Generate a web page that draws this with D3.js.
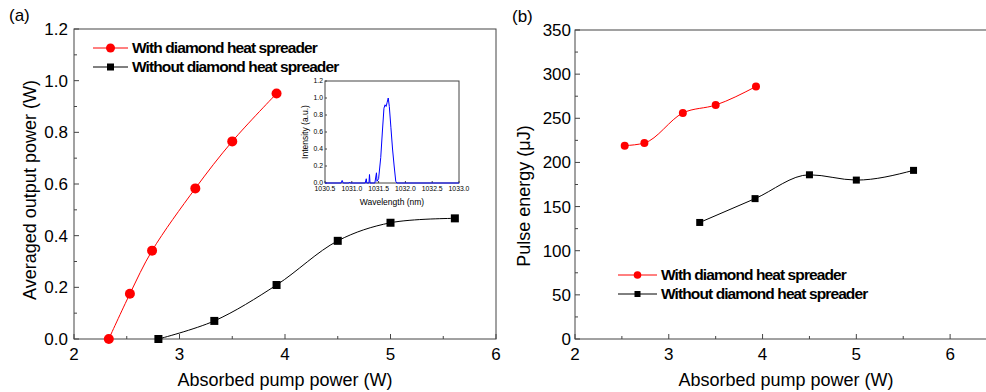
<!DOCTYPE html>
<html>
<head>
<meta charset="utf-8">
<script src="https://cdn.jsdelivr.net/npm/d3@7"></script>
<style>
  body { margin: 0; background: #fff; }
  svg { display: block; font-family: "Liberation Sans", Arial, sans-serif; }
  .legend-text { font-weight: bold; letter-spacing: -0.9px; }
</style>
</head>
<body>
<svg id="chart" width="986" height="392"></svg>
<script>
// data
const pumpWith = [2.33, 2.53, 2.74, 3.15, 3.5, 3.92];
const powerWith = [0, 0.175, 0.342, 0.583, 0.765, 0.95];
const pumpWithout = [2.8, 3.33, 3.92, 4.5, 5.0, 5.61];
const powerWithout = [0, 0.07, 0.209, 0.38, 0.45, 0.467];

const pumpWithB = [2.53, 2.74, 3.15, 3.5, 3.93];
const energyWith = [219, 222, 256, 265, 286];
const pumpWithoutB = [3.33, 3.92, 4.5, 5.0, 5.61];
const energyWithout = [132, 159, 186, 180, 191];

const specWave = [1030.5, 1030.8, 1030.82, 1030.84, 1030.95, 1030.96, 1030.97, 1031.25, 1031.27, 1031.28,
  1031.32, 1031.33, 1031.34, 1031.43, 1031.46, 1031.47, 1031.5, 1031.54, 1031.57, 1031.6, 1031.62,
  1031.64, 1031.66, 1031.68, 1031.7, 1031.73, 1031.76, 1031.79, 1031.82, 1031.84, 1033.0];
const specInt = [0, 0, 0.03, 0, 0, 0.01, 0, 0, 0.05, 0, 0, 0.1, 0, 0, 0.12, 0.02, 0.05, 0.3, 0.6, 0.88, 0.92,
  0.9, 0.95, 1.0, 0.9, 0.65, 0.4, 0.2, 0.02, 0, 0];

const labels = ["With diamond heat spreader", "Without diamond heat spreader"];
const xTitle = "Absorbed pump power (W)";

const svg = d3.select("#chart");
const axisCol = "#444";

function zip(a, b) { return a.map((v, i) => [v, b[i]]); }

// draws frame + inward ticks
function frame(g, x, y, xMaj, xMin, yMaj, yMin, fmtX, fmtY, opt) {
  const [x0, x1] = x.range(), [y0, y1] = y.range();
  g.append("rect").attr("x", x0).attr("y", y1).attr("width", x1 - x0).attr("height", y0 - y1)
    .attr("fill", "none").attr("stroke", axisCol).attr("stroke-width", 1);
  xMin.forEach(v => g.append("line").attr("x1", x(v)).attr("x2", x(v)).attr("y1", y0).attr("y2", y0 - opt.minor).attr("stroke", axisCol));
  xMaj.forEach(v => g.append("line").attr("x1", x(v)).attr("x2", x(v)).attr("y1", y0).attr("y2", y0 - opt.major).attr("stroke", axisCol));
  yMin.forEach(v => g.append("line").attr("x1", x0).attr("x2", x0 + opt.minor).attr("y1", y(v)).attr("y2", y(v)).attr("stroke", axisCol));
  yMaj.forEach(v => g.append("line").attr("x1", x0).attr("x2", x0 + opt.major).attr("y1", y(v)).attr("y2", y(v)).attr("stroke", axisCol));
  g.selectAll(null).data(xMaj).enter().append("text")
    .attr("x", d => x(d)).attr("y", y0 + opt.xlab).attr("text-anchor", "middle")
    .attr("font-size", opt.fs).attr("fill", "#000").text(fmtX);
  g.selectAll(null).data(yMaj).enter().append("text")
    .attr("x", x0 - opt.ylab).attr("y", d => y(d)).attr("dy", "0.35em").attr("text-anchor", "end")
    .attr("font-size", opt.fs).attr("fill", "#000").text(fmtY);
}

function series(g, x, y, pts, color, shape, size, curve) {
  const line = d3.line().x(d => x(d[0])).y(d => y(d[1])).curve(curve);
  g.append("path").attr("d", line(pts)).attr("fill", "none").attr("stroke", color).attr("stroke-width", 1);
  pts.forEach(p => marker(g, x(p[0]), y(p[1]), color, shape, size));
}

function marker(g, cx, cy, color, shape, size) {
  if (shape === "circle") {
    g.append("circle").attr("cx", cx).attr("cy", cy).attr("r", size).attr("fill", color);
  } else {
    g.append("rect").attr("x", cx - size).attr("y", cy - size).attr("width", size * 2).attr("height", size * 2).attr("fill", color);
  }
}

function legend(g, x, y, gap, lineLen, rC, rS, fs) {
  const items = [["red", "circle", rC], ["black", "square", rS]];
  items.forEach((it, i) => {
    const yy = y + i * gap;
    g.append("line").attr("x1", x).attr("x2", x + lineLen).attr("y1", yy).attr("y2", yy).attr("stroke", it[0]);
    marker(g, x + lineLen / 2, yy, it[0], it[1], it[2]);
    g.append("text").attr("class", "legend-text").attr("x", x + lineLen + 4).attr("y", yy).attr("dy", "0.35em")
      .attr("font-size", fs).attr("fill", "#000").text(labels[i]);
  });
}

// ---- panel (a)
const xa = d3.scaleLinear().domain([2, 6]).range([74, 496]);
const ya = d3.scaleLinear().domain([0, 1.2]).range([339, 29]);
const ga = svg.append("g");
frame(ga, xa, ya, [2, 3, 4, 5, 6], [2.5, 3.5, 4.5, 5.5], d3.range(0, 1.21, 0.2), d3.range(0.1, 1.2, 0.2),
  d => d3.format("d")(d), d => d3.format(".1f")(d), { major: 5, minor: 3, xlab: 21, ylab: 6, fs: 17 });
series(ga, xa, ya, zip(pumpWithout, powerWithout), "black", "square", 4, d3.curveCatmullRom.alpha(0.5));
series(ga, xa, ya, zip(pumpWith, powerWith), "red", "circle", 5, d3.curveCatmullRom.alpha(0.5));
legend(ga, 93, 48, 19, 35, 4.5, 3.5, 15.5);
ga.append("text").attr("x", 285).attr("y", 386).attr("text-anchor", "middle").attr("font-size", 18).text(xTitle);
ga.append("text").attr("transform", "translate(36,190) rotate(-90)").attr("text-anchor", "middle")
  .attr("font-size", 18).text("Averaged output power (W)");
ga.append("text").attr("x", 9).attr("y", 21).attr("font-size", 17).text("(a)");

// inset spectrum
const xi = d3.scaleLinear().domain([1030.5, 1033.0]).range([325, 459]);
const yi = d3.scaleLinear().domain([0, 1.2]).range([183, 81]);
const gi = svg.append("g");
frame(gi, xi, yi, d3.range(1030.5, 1033.01, 0.5), [], d3.range(0, 1.21, 0.2), [],
  d => d3.format(".1f")(d), d => d3.format(".1f")(d), { major: 2, minor: 1, xlab: 8, ylab: 2, fs: 6.8 });
gi.append("path").datum(zip(specWave, specInt))
  .attr("d", d3.line().x(d => xi(d[0])).y(d => yi(d[1])))
  .attr("fill", "none").attr("stroke", "#0000ff").attr("stroke-width", 1);
gi.append("text").attr("x", 392).attr("y", 205).attr("text-anchor", "middle").attr("font-size", 8.5).text("Wavelength (nm)");
gi.append("text").attr("transform", "translate(308,132) rotate(-90)").attr("text-anchor", "middle")
  .attr("font-size", 8.5).text("Intensity (a.u.)");

// ---- panel (b)
const xb = d3.scaleLinear().domain([2, 6.5]).range([575, 997]);
const yb = d3.scaleLinear().domain([0, 350]).range([339, 30]);
const gb = svg.append("g");
frame(gb, xb, yb, [2, 3, 4, 5, 6], [2.5, 3.5, 4.5, 5.5], d3.range(0, 351, 50), d3.range(25, 350, 50),
  d => d3.format("d")(d), d => d3.format("d")(d), { major: 5, minor: 3, xlab: 21, ylab: 4, fs: 17 });
series(gb, xb, yb, zip(pumpWithoutB, energyWithout), "black", "square", 3.5, d3.curveMonotoneX);
series(gb, xb, yb, zip(pumpWithB, energyWith), "red", "circle", 4, d3.curveMonotoneX);
legend(gb, 618, 275, 19, 39, 3.8, 3, 15.5);
gb.append("text").attr("x", 786).attr("y", 386).attr("text-anchor", "middle").attr("font-size", 18).text(xTitle);
gb.append("text").attr("transform", "translate(530,196) rotate(-90)").attr("text-anchor", "middle")
  .attr("font-size", 18).text("Pulse energy (\u03bcJ)");
gb.append("text").attr("x", 512).attr("y", 22).attr("font-size", 17).text("(b)");
</script>
</body>
</html>
